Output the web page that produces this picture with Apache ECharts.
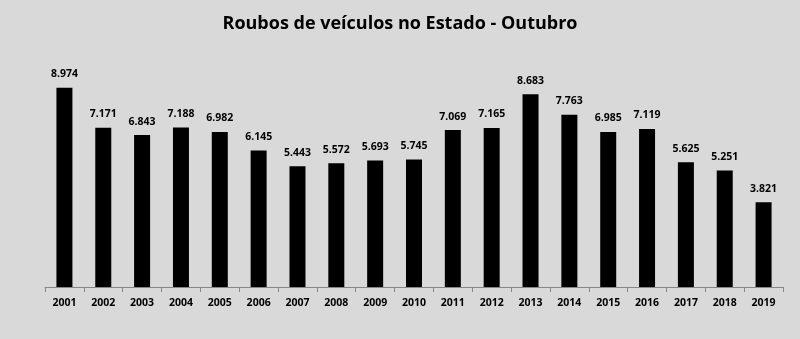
<!DOCTYPE html>
<html>
<head>
<meta charset="utf-8">
<script src="https://cdn.jsdelivr.net/npm/echarts@6/dist/echarts.min.js"></script>
<style>
  html, body { margin: 0; padding: 0; background: #d9d9d9; }
  #chart { width: 800px; height: 339px; }
</style>
</head>
<body>
<div id="chart"></div>
<script>
// Anos e totais de roubos de veículos (outubro)
const anos = ['2001','2002','2003','2004','2005','2006','2007','2008','2009','2010',
              '2011','2012','2013','2014','2015','2016','2017','2018','2019'];
const roubos = [8974, 7171, 6843, 7188, 6982, 6145, 5443, 5572, 5693, 5745,
                7069, 7165, 8683, 7763, 6985, 7119, 5625, 5251, 3821];
const titulo = 'Roubos de veículos no Estado - Outubro';

// separador de milhar no padrão brasileiro
function milhar(v) {
  return String(v).replace(/\B(?=(\d{3})+(?!\d))/g, '.');
}

const chart = echarts.init(document.getElementById('chart'));
chart.setOption({
  backgroundColor: '#d9d9d9',
  animation: false,
  title: {
    text: titulo,
    left: 'center',
    top: 10,
    textStyle: { fontFamily: 'Open Sans', fontWeight: 'bold', fontSize: 18, color: '#000' }
  },
  grid: { left: 45, right: 17, top: 65, bottom: 52 },
  xAxis: {
    type: 'category',
    data: anos,
    axisLine: { lineStyle: { color: '#868686', width: 1 } },
    axisTick: { show: true, length: 5, lineStyle: { color: '#868686' } },
    axisLabel: { color: '#000', fontFamily: 'Open Sans', fontWeight: 'bold', fontSize: 10.5, margin: 11 }
  },
  yAxis: {
    type: 'value',
    min: 0,
    max: 10000,
    show: false,
    splitLine: { show: false }
  },
  series: [{
    type: 'bar',
    data: roubos,
    barWidth: 16,
    itemStyle: { color: '#000' },
    label: {
      show: true,
      position: 'top',
      distance: 8,
      color: '#000',
      fontFamily: 'Open Sans',
      fontWeight: 'bold',
      fontSize: 10.5,
      formatter: p => milhar(p.value)
    }
  }]
});
</script>
</body>
</html>
